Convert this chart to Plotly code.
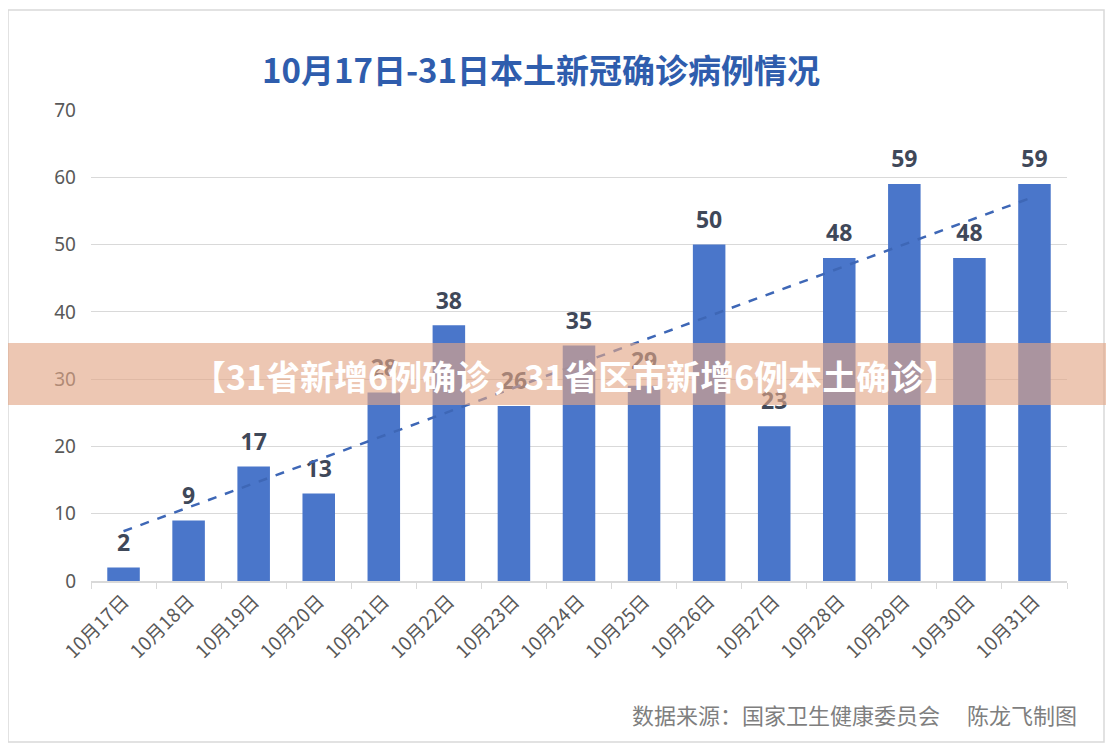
import numpy as np
import plotly.graph_objects as go

categories = ["10月17日", "10月18日", "10月19日", "10月20日", "10月21日", "10月22日",
              "10月23日", "10月24日", "10月25日", "10月26日", "10月27日", "10月28日",
              "10月29日", "10月30日", "10月31日"]
cases = [2, 9, 17, 13, 28, 38, 26, 35, 29, 50, 23, 48, 59, 48, 59]
y_ticks = [0, 10, 20, 30, 40, 50, 60, 70]

title_text = "10月17日-31日本土新冠确诊病例情况"
banner_text = "【31省新增6例确诊，31省区市新增6例本土确诊】"
source_text = "数据来源：国家卫生健康委员会　 陈龙飞制图"

# linear trendline (least squares fit of the series)
idx = np.arange(len(cases))
slope, intercept = np.polyfit(idx, cases, 1)
trend = [intercept, intercept + slope * idx[-1]]
trend_x = [categories[0], categories[-1]]

# page offset (default body margin) compensation
OFF = 8
WIN_W, WIN_H = 1114, 750
W, H = WIN_W - OFF, WIN_H - OFF
L, R, T, B = 91, 1067, 110, 581   # plot area in window pixels


def px(xp):
    return (xp - L) / (R - L)


def py(yp):
    return (B - yp) / (B - T)


fig = go.Figure()
fig.add_trace(go.Bar(
    x=categories, y=cases,
    marker=dict(color="#4a76ca", line=dict(width=0)),
    hoverinfo="x+y",
))
fig.add_trace(go.Scatter(
    x=categories, y=cases, mode="markers+text",
    marker=dict(size=16, color="rgba(0,0,0,0)"),
    text=[str(v) for v in cases], textposition="top center", cliponaxis=False,
    textfont=dict(family="Noto Sans, Liberation Sans, sans-serif", size=23,
                  color="#3f4859", weight="bold"),
    hoverinfo="skip",
))
fig.add_trace(go.Scatter(
    x=trend_x, y=trend, mode="lines",
    line=dict(color="#3e67b6", width=2.5, dash="dash"),
    hoverinfo="skip",
))

fig.update_layout(
    width=W, height=H,
    margin=dict(l=L - OFF, r=WIN_W - R, t=T - OFF, b=WIN_H - B),
    paper_bgcolor="white", plot_bgcolor="white",
    showlegend=False, bargap=0.5,
    font=dict(family="Noto Sans CJK SC, Noto Sans, sans-serif", color="#595959"),
    xaxis=dict(
        type="category", range=[-0.5, len(categories) - 0.5],
        tickangle=-45, tickson="boundaries",
        ticks="outside", ticklen=6, tickcolor="#d9d9d9",
        showline=True, linecolor="#d9d9d9", linewidth=1.5,
        showgrid=False,
        tickfont=dict(family="Noto Sans CJK SC, sans-serif", size=19, color="#595959"),
    ),
    yaxis=dict(
        range=[0, 70], tickvals=y_ticks, showgrid=True, gridcolor="#d9d9d9",
        gridwidth=1.3, zeroline=False, showline=False, ticks="",
        ticklabelstandoff=14,
        tickfont=dict(family="Noto Sans, sans-serif", size=19, color="#595959"),
    ),
    shapes=[
        dict(type="rect", xref="paper", yref="paper",
             x0=px(8), x1=px(1104), y0=py(742), y1=py(10),
             line=dict(color="#d9d9d9", width=1.5), fillcolor="rgba(0,0,0,0)",
             layer="below"),
        dict(type="rect", xref="paper", yref="paper",
             x0=px(0), x1=px(WIN_W + 5), y0=py(405), y1=py(343),
             line=dict(width=0), fillcolor="rgba(227,166,134,0.63)",
             layer="above"),
    ],
    annotations=[
        dict(text=title_text, xref="paper", yref="paper", x=px(541), y=py(69),
             xanchor="center", yanchor="middle", showarrow=False,
             font=dict(family="Noto Sans CJK SC, sans-serif", size=33,
                       color="#2f5dad", weight="bold")),
        dict(text=banner_text, xref="paper", yref="paper", x=px(575), y=py(375),
             xanchor="center", yanchor="middle", showarrow=False,
             font=dict(family="Noto Sans CJK SC, sans-serif", size=34,
                       color="white", weight="bold")),
        dict(text=source_text, xref="paper", yref="paper", x=px(1079), y=py(714),
             xanchor="right", yanchor="middle", showarrow=False,
             font=dict(family="Noto Sans CJK SC, sans-serif", size=22,
                       color="#7f7f7f")),
    ],
)

fig.write_html("out.html")
